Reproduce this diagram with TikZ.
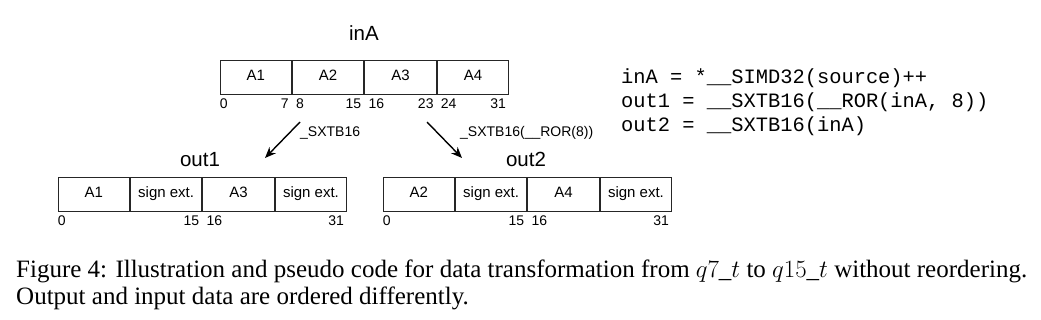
\documentclass[tikz,border=0pt]{standalone}
\usepackage{fontspec}
\setmainfont{Liberation Serif}
\newfontfamily\hv{Liberation Sans}
\setmonofont{Liberation Mono}
\usetikzlibrary{arrows.meta}
\begin{document}
\begin{tikzpicture}[x=1pt,y=-1pt,
  cell/.style={draw=black!85, line width=0.9pt, minimum width=71.5pt, minimum height=34pt, inner sep=0pt, text height=10.8pt, text depth=3.2pt, font=\hv\fontsize{15}{18}\selectfont},
  bit/.style={font=\hv\fontsize{14}{16}\selectfont, inner sep=0pt},
  ttl/.style={font=\hv\fontsize{20.5}{24}\selectfont, inner sep=0pt, anchor=base},
  lbl/.style={font=\hv\fontsize{14}{16}\selectfont, inner sep=0pt, anchor=base west},
  arr/.style={-{Stealth[length=11pt,width=9pt]}, line width=1.4pt},
  code/.style={font=\ttfamily\fontsize{20.4}{24}\selectfont, inner sep=0pt, anchor=base west},
  captxt/.style={font=\fontsize{25}{28}\selectfont, inner sep=0pt, anchor=base west},
]
\useasboundingbox (0,0) rectangle (1041,319);
% input register
\node[ttl] (tin) at (364,40) {inA};
\node[cell] (a1) at (255.75,77) {A1};
\node[cell, anchor=west] (a2) at (a1.east) {A2};
\node[cell, anchor=west] (a3) at (a2.east) {A3};
\node[cell, anchor=west] (a4) at (a3.east) {A4};
\node[bit, anchor=base west] (b0) at ([yshift=-14pt]a1.south west) {0};
\node[bit, anchor=base east] (b7) at ([xshift=-3pt,yshift=-14pt]a1.south east) {7};
\node[bit, anchor=base west] (b8) at ([xshift=4pt,yshift=-14pt]a2.south west) {8};
\node[bit, anchor=base east] (b15) at ([xshift=-3pt,yshift=-14pt]a2.south east) {15};
\node[bit, anchor=base west] (b16) at ([xshift=4pt,yshift=-14pt]a3.south west) {16};
\node[bit, anchor=base east] (b23) at ([xshift=-3pt,yshift=-14pt]a3.south east) {23};
\node[bit, anchor=base west] (b24) at ([xshift=4pt,yshift=-14pt]a4.south west) {24};
\node[bit, anchor=base east] (b31) at ([xshift=-3pt,yshift=-14pt]a4.south east) {31};
% arrows
\coordinate (s1) at (300,122);
\coordinate (e1) at (265,158);
\coordinate (s2) at (427,122);
\coordinate (e2) at (462,158);
\draw[arr] (s1) -- (e1);
\draw[arr] (s2) -- (e2);
\node[lbl] (l1) at (300,136) {\_SXTB16};
\node[lbl] (l2) at (460,136) {\_SXTB16(\_\_ROR(8))};
% out1
\node[ttl] (to1) at (200,166) {out1};
\node[cell] (p1) at (93.75,194) {A1};
\node[cell, anchor=west] (p2) at (p1.east) {sign ext.};
\node[cell, anchor=west] (p3) at (p2.east) {A3};
\node[cell, anchor=west] (p4) at (p3.east) {sign ext.};
\node[bit, anchor=base west] (c0) at ([yshift=-14pt]p1.south west) {0};
\node[bit, anchor=base east] (c15) at ([xshift=-3pt,yshift=-14pt]p2.south east) {15};
\node[bit, anchor=base west] (c16) at ([xshift=4pt,yshift=-14pt]p3.south west) {16};
\node[bit, anchor=base east] (c31) at ([xshift=-3pt,yshift=-14pt]p4.south east) {31};
% out2
\node[ttl] (to2) at (526,166) {out2};
\node[cell] (q1) at (418.75,194) {A2};
\node[cell, anchor=west] (q2) at (q1.east) {sign ext.};
\node[cell, anchor=west] (q3) at (q2.east) {A4};
\node[cell, anchor=west] (q4) at (q3.east) {sign ext.};
\node[bit, anchor=base west] (d0) at ([yshift=-14pt]q1.south west) {0};
\node[bit, anchor=base east] (d15) at ([xshift=-3pt,yshift=-14pt]q2.south east) {15};
\node[bit, anchor=base west] (d16) at ([xshift=4pt,yshift=-14pt]q3.south west) {16};
\node[bit, anchor=base east] (d31) at ([xshift=-3pt,yshift=-14pt]q4.south east) {31};
% code
\node[code] (k1) at (621,83) {inA = *\_\_SIMD32(source)++};
\node[code] (k2) at (621,107) {out1 = \_\_SXTB16(\_\_ROR(inA, 8))};
\node[code] (k3) at (621,131) {out2 = \_\_SXTB16(inA)};
% caption
\node[captxt] (f1) at (16,277) {Figure 4: Illustration and pseudo code for data transformation from $q7\_t$ to $q15\_t$ without reordering.};
\node[captxt] (f2) at (16,304) {Output and input data are ordered differently.};
\end{tikzpicture}
\end{document}
